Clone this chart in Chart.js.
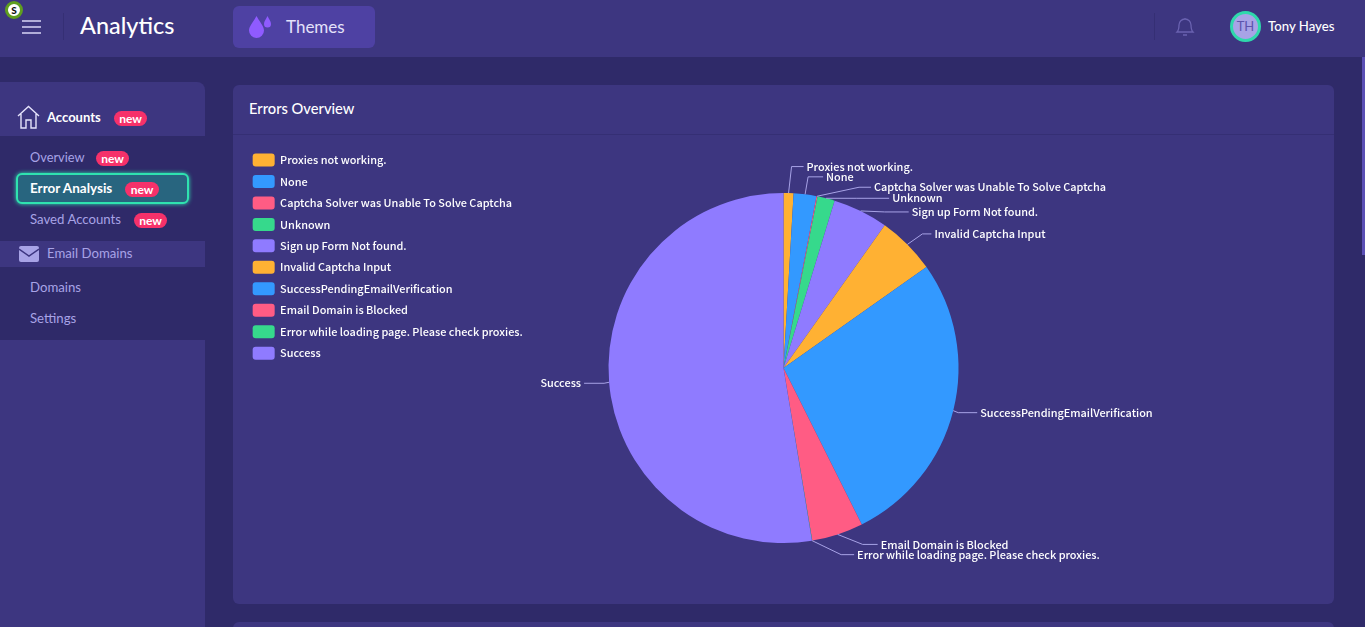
<!DOCTYPE html>
<html><head><meta charset="utf-8">
<script src="https://cdn.jsdelivr.net/npm/chart.js@4"></script>
<style>
*{box-sizing:border-box}
html,body{margin:0;padding:0;width:1365px;height:627px;overflow:hidden;background:#2f2a69;font-family:Lato,sans-serif;color:#fff}
.abs{position:absolute}
#top{left:0;top:0;width:1365px;height:57px;background:#3d3680}
#side{left:0;top:82px;width:205px;height:545px;background:#3d3680;border-top-right-radius:8px}
.band{left:0;width:205px;background:#2f2a69}
.t{position:absolute;white-space:nowrap;line-height:1}
.sub{color:#a8a3e6;font-size:13.2px}
.new{position:absolute;background:#f6316a;color:#fff;font-size:12px;font-weight:700;border-radius:8px;height:15px;line-height:15px;text-align:center}
#sel{left:16px;top:173px;width:173px;height:31px;border:2px solid #2fe3b0;border-radius:6px;background:#28657f;box-shadow:0 0 4px #2fe3b0}
#card{left:233px;top:85px;width:1101px;height:519px;background:#3d3680;border-radius:6px}
#hr{left:233px;top:134px;width:1101px;height:1px;background:#352f74}
#card2{left:233px;top:622px;width:1101px;height:20px;background:#3d3680;border-radius:6px}
#wrap{left:233px;top:135px;width:1101px;height:469px}
#themes{left:233px;top:6px;width:142px;height:42px;background:#4e41a3;border-radius:6px}
#scroll{left:1362px;top:57px;width:3px;height:198px;background:#5a4fb5}
#av{left:1230px;top:11px;width:31px;height:31px;border-radius:50%;background:#a8a3e6;border:3px solid #2fd9ac;color:#5d54ad;font-size:13px;text-align:center;line-height:25px}
#badge{left:5px;top:1px;width:18px;height:18px;border-radius:50%;background:#fff;border:3px solid #5f9e1f;color:#111;font-size:10px;font-weight:900;text-align:center;line-height:12px}
</style></head><body>
<div class="abs" id="top"></div>
<div class="abs" id="side"></div>
<div class="abs band" style="top:136px;height:105px"></div>
<div class="abs" style="left:0;top:241px;width:205px;height:26px;background:#3d3680"></div>
<div class="abs band" style="top:267px;height:73px"></div>
<div class="abs" id="card"></div><div class="abs" id="hr"></div><div class="abs" id="card2"></div>
<div class="abs" id="themes"></div><div class="abs" id="scroll"></div>
<div class="abs" id="sel"></div>

<svg class="abs" style="left:22px;top:19px" width="20" height="16"><path d="M0 2h19M0 8h19M0 14h19" stroke="#d8d5f5" stroke-width="1.6"/></svg>
<div class="abs" style="left:63px;top:13px;width:1px;height:27px;background:#352f74"></div>
<div class="abs" style="left:1154px;top:13px;width:1px;height:27px;background:#352f74"></div>
<div class="t" style="left:80px;top:14px;font-size:23.4px;font-weight:500">Analytics</div>
<svg class="abs" style="left:248px;top:15px" width="26" height="24"><path d="M8.500 1C6 6 1 11 1 15.500a7.500 7.500 0 0 0 15 0C16 11 11 6 8.500 1z" fill="#8f5bff"/><path d="M19.500 1C18 4 16 6.500 16 9a3.500 3.500 0 0 0 7 0C23 6.500 21 4 19.500 1z" fill="#8f5bff"/></svg>
<div class="t" style="left:286px;top:18px;font-size:17px;color:#e4e2fa">Themes</div>
<svg class="abs" style="left:1175px;top:17px" width="20" height="20"><path d="M2 15c2-2 2-4 2-7a6 6 0 0 1 12 0c0 3 0 5 2 7zM8 18h4M10 2V1" fill="none" stroke="#6a62b0" stroke-width="1.3"/></svg>
<div class="abs t" id="av">TH</div>
<div class="t" style="left:1268px;top:20px;font-size:13.2px;font-weight:500">Tony Hayes</div>

<svg class="abs" style="left:17px;top:105px" width="23" height="24"><path d="M1 11L11.500 1.500 22 11M4 9v14h5v-8h5v8h5V9" fill="none" stroke="#e4e2fa" stroke-width="1.4"/></svg>
<div class="t" style="left:47px;top:111px;font-size:13px;font-weight:700">Accounts</div>
<div class="new" style="left:114px;top:111px;width:33px">new</div>
<div class="t sub" style="left:30px;top:151px;font-size:12.8px">Overview</div>
<div class="new" style="left:96px;top:151px;width:33px">new</div>
<div class="t" style="left:30px;top:182px;font-size:13.5px;font-weight:700">Error Analysis</div>
<div class="new" style="left:125px;top:182px;width:34px">new</div>
<div class="t sub" style="left:30px;top:213px">Saved Accounts</div>
<div class="new" style="left:134px;top:213px;width:33px">new</div>
<svg class="abs" style="left:19px;top:246px" width="20" height="16"><rect width="20" height="16" rx="2" fill="#a8a3e6"/><path d="M0 3l10 7 10-7" fill="none" stroke="#3d3680" stroke-width="1.5"/></svg>
<div class="t sub" style="left:47px;top:247px">Email Domains</div>
<div class="t sub" style="left:30px;top:281px">Domains</div>
<div class="t sub" style="left:30px;top:312px">Settings</div>
<div class="t" style="left:249px;top:101px;font-size:14.7px;font-weight:500">Errors Overview</div>
<div class="abs t" id="badge">S</div>

<div class="abs" id="wrap"><canvas id="c" width="1101" height="469"></canvas></div>
<script>
const categories = ["Proxies not working.","None","Captcha Solver was Unable To Solve Captcha","Unknown","Sign up Form Not found.","Invalid Captcha Input","SuccessPendingEmailVerification","Email Domain is Blocked","Error while loading page. Please check proxies.","Success"];
const errorShare = [0.92,2.1,0.1,1.6,5.1,5.4,27.4,4.75,0.03,52.6];
const sliceColors = ["#ffb133","#3399ff","#ff5c84","#36d98c","#8f7bff","#ffb133","#3399ff","#ff5c84","#36d98c","#8f7bff"];
// leader-line layout: horizontal reach to elbow, rise to text line, run to text
const leaderReach = [3,3,42,30,24,15,5,25,29,-5];
const leaderRise = [-26.5,-17.5,-9,0,1,-10.5,2,10,14,1];
const leaderRun = [12,15,12,33,24,9,19,15,13,-20];

const LABEL_FONT = '500 10.9px "Noto Sans CJK SC"';
const leaderPlugin = {
  id:'leaders',
  beforeDraw(chart){ chart.legend.top = 10; },
  afterDatasetsDraw(chart){
    const ctx = chart.ctx, arcs = chart.getDatasetMeta(0).data;
    ctx.save();
    ctx.font = LABEL_FONT; ctx.textBaseline='middle';
    arcs.forEach((arc,i)=>{
      const p = arc.getProps(['x','y','startAngle','endAngle','outerRadius'],true);
      const a = (p.startAngle+p.endAngle)/2;
      const sx = p.x+Math.cos(a)*p.outerRadius, sy = p.y+Math.sin(a)*p.outerRadius;
      const ex = sx+leaderReach[i], ey = sy+leaderRise[i], tx = ex+leaderRun[i];
      ctx.strokeStyle='#a8a3e6'; ctx.lineWidth=1;
      ctx.beginPath(); ctx.moveTo(sx,sy); ctx.lineTo(ex,ey); ctx.lineTo(tx,ey); ctx.stroke();
      ctx.fillStyle='#fff';
      const right = leaderRun[i]<0;
      ctx.textAlign = right?'right':'left';
      ctx.fillText(categories[i], tx+(right?-3:3), ey);
    });
    ctx.restore();
  }
};
new Chart(document.getElementById('c'),{
  type:'pie',
  data:{labels:categories,datasets:[{data:errorShare,backgroundColor:sliceColors,borderWidth:0,radius:175}]},
  options:{
    responsive:false,animation:false,
    layout:{padding:{left:11.2,right:11.2,top:0,bottom:3}},
    plugins:{
      tooltip:{enabled:false},
      legend:{position:'chartArea',align:'start',onClick:null,
        labels:{color:'#fff',boxWidth:22,boxHeight:13,padding:8.47,useBorderRadius:true,borderRadius:3,
          font:{family:'"Noto Sans CJK SC"',size:10.9,weight:'500'}}}
    }
  },
  plugins:[leaderPlugin]
});
</script>
</body></html>
